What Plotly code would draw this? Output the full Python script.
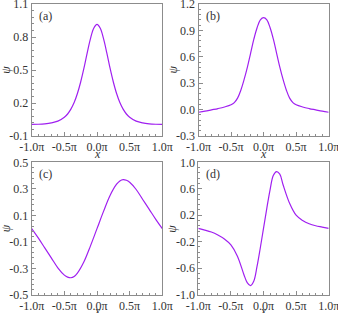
import plotly.graph_objects as go

# x positions in units of pi
x_a = [-1.0, -0.9, -0.8, -0.7, -0.6, -0.5, -0.45, -0.4, -0.35, -0.3, -0.25, -0.2, -0.15, -0.1, -0.05, 0.0,
       0.05, 0.1, 0.15, 0.2, 0.25, 0.3, 0.35, 0.4, 0.45, 0.5, 0.6, 0.7, 0.8, 0.9, 1.0]
psi_a = [0.005, 0.007, 0.011, 0.019, 0.035, 0.071, 0.10, 0.144, 0.204, 0.286, 0.391, 0.516, 0.656, 0.785, 0.88, 0.915,
         0.88, 0.785, 0.656, 0.516, 0.391, 0.286, 0.204, 0.144, 0.10, 0.071, 0.035, 0.019, 0.011, 0.007, 0.005]

x_b = [-1.0, -0.9, -0.8, -0.7, -0.6, -0.5, -0.45, -0.4, -0.35, -0.3, -0.25, -0.2, -0.15, -0.1, -0.05, 0.0,
       0.05, 0.1, 0.15, 0.2, 0.25, 0.3, 0.35, 0.4, 0.45, 0.5, 0.6, 0.7, 0.8, 0.9, 1.0]
psi_b = [-0.03, -0.018, -0.003, 0.012, 0.03, 0.055, 0.08, 0.13, 0.22, 0.34, 0.48, 0.64, 0.80, 0.93, 1.02, 1.045,
         1.02, 0.93, 0.80, 0.64, 0.48, 0.34, 0.22, 0.13, 0.08, 0.055, 0.03, 0.012, -0.003, -0.018, -0.03]

x_c = [-1.0, -0.9, -0.8, -0.7, -0.6, -0.5, -0.45, -0.4, -0.35, -0.3, -0.2, -0.1, 0.0,
       0.1, 0.2, 0.3, 0.35, 0.4, 0.45, 0.5, 0.6, 0.7, 0.8, 0.9, 1.0]
psi_c = [0.0, -0.07, -0.145, -0.22, -0.295, -0.35, -0.365, -0.37, -0.36, -0.335, -0.25, -0.13, 0.0,
         0.13, 0.25, 0.335, 0.36, 0.37, 0.365, 0.35, 0.295, 0.22, 0.145, 0.07, 0.0]

x_d = [-1.0, -0.9, -0.8, -0.7, -0.6, -0.5, -0.4, -0.3, -0.25, -0.2, -0.15, -0.1, -0.05, 0.0,
       0.05, 0.1, 0.15, 0.2, 0.25, 0.3, 0.4, 0.5, 0.6, 0.7, 0.8, 0.9, 1.0]
psi_d = [0.0, -0.025, -0.055, -0.10, -0.16, -0.25, -0.42, -0.70, -0.82, -0.865, -0.80, -0.58, -0.30, 0.0,
         0.30, 0.58, 0.80, 0.86, 0.82, 0.66, 0.38, 0.20, 0.12, 0.07, 0.04, 0.02, 0.0]

x_ticks = [-1.0, -0.5, 0.0, 0.5, 1.0]
x_ticktext = ["-1.0π", "-0.5π", "0.0π", "0.5π", "1.0π"]

y_ticks_a = [-0.1, 0.2, 0.5, 0.8, 1.1]
y_ticks_b = [-0.3, 0.0, 0.3, 0.6, 0.9, 1.2]
y_ticks_c = [-0.5, -0.3, -0.1, 0.1, 0.3, 0.5]
y_ticks_d = [-1.0, -0.6, -0.2, 0.2, 0.6, 1.0]
panel_labels = ["(a)", "(b)", "(c)", "(d)"]

LINE = "#a020f0"
AX = "#8c8c8c"
TXT = "#333333"
FONT = "Liberation Serif, DejaVu Serif, serif"
W, H = 338, 313

# (x, y, yticks, minor dtick, pixel x-extent, pixel y-extent, x-title offset)
panels = [
    (x_a, psi_a, y_ticks_a, 0.06, [31.7, 162.3], [4, 136], 18),
    (x_b, psi_b, y_ticks_b, 0.06, [198.5, 328.7], [4, 136], 18),
    (x_c, psi_c, y_ticks_c, 0.04, [31.7, 162.3], [162.3, 295], 15.5),
    (x_d, psi_d, y_ticks_d, 0.08, [198.3, 328.7], [162.3, 294.5], 16),
]

def lab(v):
    return f"{v:.1f}"

fig = go.Figure()
layout = dict(width=W, height=H, margin=dict(l=0, r=0, t=0, b=0, autoexpand=False),
              paper_bgcolor="white", plot_bgcolor="white", showlegend=False,
              font=dict(family=FONT, size=11, color=TXT))
annotations = []
for i, (xs, ys, yt, ymin, px, py, xoff) in enumerate(panels):
    n = "" if i == 0 else str(i + 1)
    fig.add_trace(go.Scatter(x=xs, y=ys, mode="lines", line=dict(color=LINE, width=1.2, shape="spline", smoothing=1.0),
                             xaxis="x" + n, yaxis="y" + n, hoverinfo="skip"))
    xd = [px[0] / W, px[1] / W]
    yd = [1 - py[1] / H, 1 - py[0] / H]
    common = dict(ticks="inside", ticklen=4, tickcolor=AX, showline=True, linecolor=AX, linewidth=1,
                  mirror=True, showgrid=False, zeroline=False, automargin=False, ticklabeloverflow="allow",
                  tickfont=dict(family=FONT, size=12, color=TXT))
    layout["xaxis" + n] = dict(domain=xd, anchor="y" + n, range=[-1, 1], tickvals=x_ticks, ticktext=x_ticktext,
                               minor=dict(dtick=0.1, tick0=-1, ticks="inside", ticklen=2, tickcolor=AX, showgrid=False),
                               **common)
    layout["yaxis" + n] = dict(domain=yd, anchor="x" + n, range=[yt[0], yt[-1]], tickvals=yt,
                               ticktext=[lab(v) for v in yt],
                               minor=dict(dtick=ymin, tick0=yt[0], ticks="inside", ticklen=2, tickcolor=AX, showgrid=False),
                               **common)
    annotations.append(dict(text=panel_labels[i], xref="x" + n + " domain", yref="y" + n + " domain",
                            x=0.04, y=0.98, xanchor="left", yanchor="top", showarrow=False,
                            font=dict(family=FONT, size=12, color=TXT)))
    annotations.append(dict(text="<i>x</i>", xref="paper", yref="paper",
                            x=(px[0] + px[1]) / 2 / W, y=1 - (py[1] + xoff) / H, xanchor="center", yanchor="middle",
                            showarrow=False, font=dict(family=FONT, size=12, color=TXT)))
    annotations.append(dict(text="<i>ψ</i>", xref="paper", yref="paper",
                            x=(px[0] - 26) / W, y=1 - (py[0] + py[1]) / 2 / H, xanchor="center", yanchor="middle",
                            textangle=-90, showarrow=False, font=dict(family=FONT, size=12, color=TXT)))
layout["annotations"] = annotations
fig.update_layout(**layout)
fig.write_html("out.html", config={"displayModeBar": False, "staticPlot": True},
               post_script="document.body.style.margin='0';document.body.style.overflow='hidden';")
